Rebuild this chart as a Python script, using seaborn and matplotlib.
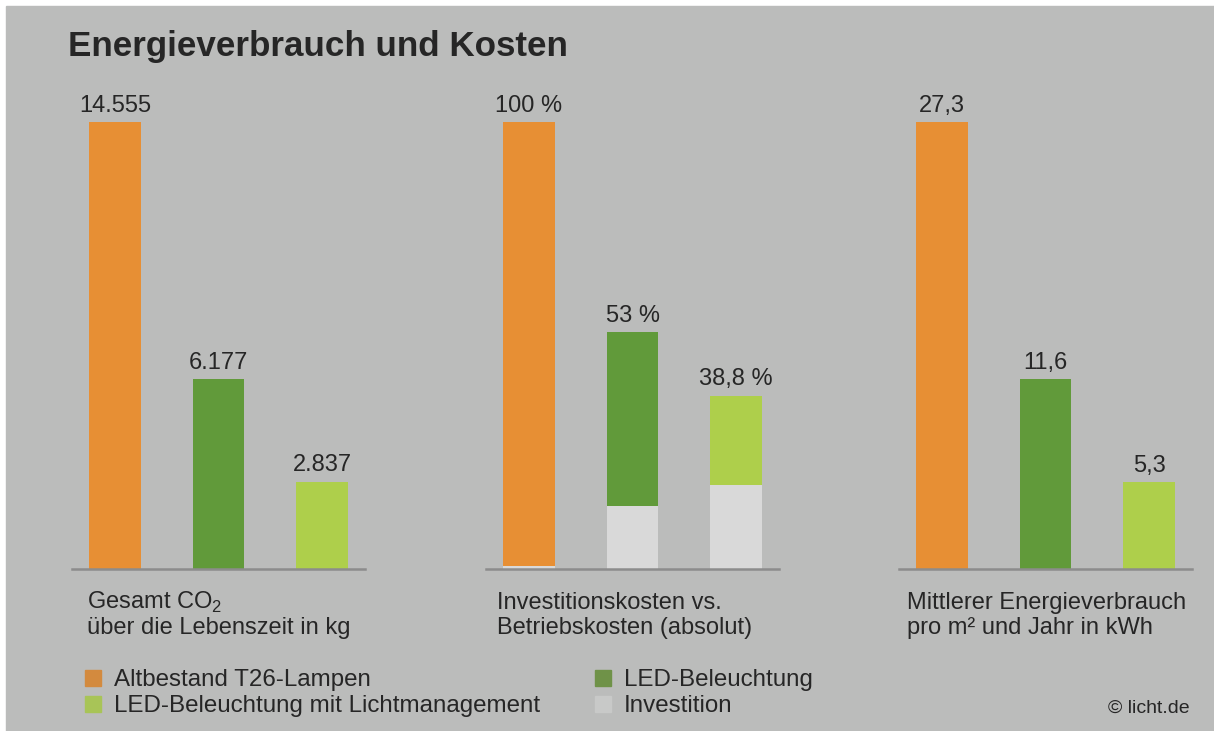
import matplotlib
matplotlib.use("Agg")
import matplotlib.pyplot as plt
from matplotlib.patches import Rectangle
import seaborn as sns

# ------------------------------------------------------------
# data
# ------------------------------------------------------------
groups = ["Altbestand T26-Lampen", "LED-Beleuchtung",
          "LED-Beleuchtung mit Lichtmanagement"]

co2_kg = [14555, 6177, 2837]
co2_labels = ["14.555", "6.177", "2.837"]

kosten_pct = [100, 53, 38.8]
kosten_labels = ["100 %", "53 %", "38,8 %"]
investition_pct = [0.6, 14.2, 18.9]

energie_kwh = [27.3, 11.6, 5.3]
energie_labels = ["27,3", "11,6", "5,3"]

# ------------------------------------------------------------
# style
# ------------------------------------------------------------
sns.set_theme(style="white")
plt.rcParams["font.family"] = ["Liberation Sans", "DejaVu Sans"]
plt.rcParams["mathtext.fontset"] = "custom"
plt.rcParams["mathtext.rm"] = "Liberation Sans"

BG = "#bbbcbb"
TXT = "#262626"
bar_colors = ["#e78f34", "#619a3a", "#aecf4b"]
legend_colors = ["#d38a3e", "#6f9248", "#a8c457"]
INV = "#d9d9d9"
INV_LEG = "#c8c9c8"
LINE = "#8c8c8c"

W, H = 1214, 731
fig = plt.figure(figsize=(W / 100, H / 100), dpi=100, facecolor="white")
fig.patches.append(Rectangle((6 / W, 0), 1, (H - 6) / H, transform=fig.transFigure,
                             color=BG, zorder=-10))


def px(x, y):
    """pixel position (from top-left) -> figure fraction"""
    return x / W, 1 - y / H


panels = [
    (72, co2_kg, co2_labels, None),
    (486, kosten_pct, kosten_labels, investition_pct),
    (899, energie_kwh, energie_labels, None),
]

for left, vals, labels, inv in panels:
    ax = fig.add_axes([left / W, (H - 569) / H, 293 / W, 447 / H])
    ax.patch.set_visible(False)
    sns.barplot(x=groups, y=vals, hue=groups, palette=bar_colors, width=0.5,
                saturation=1, linewidth=0, legend=False, ax=ax)
    if inv is not None:
        sns.barplot(x=groups, y=inv, color=INV, width=0.5, saturation=1,
                    linewidth=0, ax=ax)
    for i, (v, lab) in enumerate(zip(vals, labels)):
        ax.annotate(lab, (i, v), xytext=(0, 7.5), textcoords="offset points",
                    ha="center", va="baseline", fontsize=17, color=TXT,
                    annotation_clip=False)
    ax.set_xlim(-0.415, 2.415)
    ax.set_ylim(0, max(vals))
    ax.set_xticks([])
    ax.set_yticks([])
    ax.set_xlabel("")
    ax.set_ylabel("")
    sns.despine(ax=ax, left=True)
    ax.spines["bottom"].set_color(LINE)
    ax.spines["bottom"].set_linewidth(1.8)

# title
fig.text(*px(68, 56), "Energieverbrauch und Kosten", fontsize=25.2,
         fontweight="bold", color=TXT, va="baseline")

# panel captions
captions = [
    (87, r"Gesamt CO$_\mathregular{2}$", "über die Lebenszeit in kg"),
    (497, "Investitionskosten vs.", "Betriebskosten (absolut)"),
    (907, "Mittlerer Energieverbrauch", "pro m² und Jahr in kWh"),
]
for x, l1, l2 in captions:
    fig.text(*px(x, 609), l1, fontsize=17, color=TXT, va="baseline")
    fig.text(*px(x, 634), l2, fontsize=17, color=TXT, va="baseline")

# legend
legend_items = [
    (85, 686, legend_colors[0], groups[0]),
    (595, 686, legend_colors[1], groups[1]),
    (85, 712, legend_colors[2], groups[2]),
    (595, 712, INV_LEG, "Investition"),
]
for x, y, c, lab in legend_items:
    fig.patches.append(Rectangle(px(x, y), 16 / W, 16 / H,
                                 transform=fig.transFigure, color=c))
    fig.text(*px(x + 29, y), lab, fontsize=17.4, color=TXT, va="baseline")

fig.text(*px(1190, 713), "© licht.de", fontsize=14, color=TXT,
         ha="right", va="baseline")

fig.savefig("out.png", dpi=100, facecolor="white")
